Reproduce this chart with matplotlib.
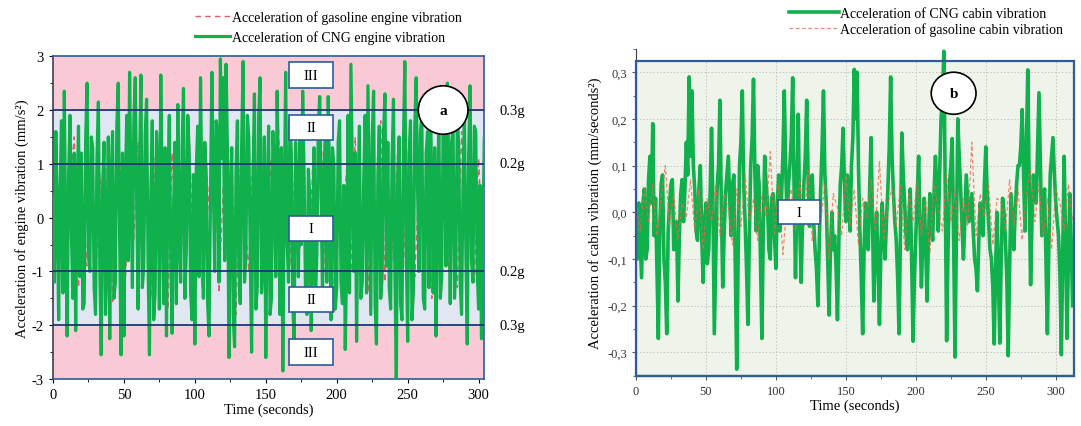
import numpy as np
import matplotlib
matplotlib.use('Agg')
import matplotlib.pyplot as plt
from matplotlib.patches import Rectangle, Ellipse
from matplotlib.ticker import MultipleLocator, FuncFormatter
import matplotlib.transforms as mtransforms

plt.rcParams['font.family'] = ['Liberation Serif', 'DejaVu Serif']
plt.rcParams['font.size'] = 10
plt.rcParams['axes.unicode_minus'] = False

# ---- data ----
# engine vibration, CNG: even seconds 0..310 and odd seconds 1..309
cng_engine_even = [0.4, 1.6, -1.9, 1.8, 2.35, -2.2, 1.9, -1.5, -2.1, 1.7,
                   1.2, -1.6, 2.5, -1.0, 1.3, -1.8, 2.15, -2.55, 1.4, -0.8,
                   -2.25, 1.6, -1.2, 2.5, -2.55, -2.2, 1.9, 2.7, -1.3, 2.6,
                   -1.7, 2.65, -0.9, 2.2, -2.55, 1.8, -1.4, 0.9, 2.65, -1.6,
                   -2.2, 1.9, -2.15, 1.4, 2.1, -1.2, 2.4, -0.6, 1.2, -1.9,
                   -2.35, 1.7, 2.6, -1.5, 0.8, -2.2, 2.7, -1.0, 1.6, 2.95,
                   2.6, 2.85, -2.6, 1.3, -2.4, 1.8, -1.6, 2.9, -0.7, 1.5,
                   -2.5, 2.3, -1.3, 2.6, -0.8, -2.6, 1.7, -1.5, 1.0, 2.35,
                   -1.8, -2.85, 2.7, -1.2, 1.2, -2.3, 0.6, 1.6, 2.35, -1.4,
                   0.9, -2.1, 1.3, -0.7, 2.25, -1.5, 1.5, 2.25, -1.9, 1.0,
                   -1.3, 1.8, -1.6, -2.45, 1.9, 2.85, -1.0, -2.3, 1.7, -1.2,
                   1.9, 2.45, -1.8, 2.35, -2.35, 1.7, -1.1, 2.3, 1.4, -1.7,
                   2.2, -3.0, 1.5, -1.9, 2.9, -2.3, 1.8, -1.4, 2.6, -1.0,
                   1.9, -1.7, 1.6, 2.2, -1.4, -2.2, 1.8, -1.1, 1.5, 2.5,
                   -1.6, 1.7, -0.9, 1.3, -1.8, 1.9, -2.35, 2.45, -1.2, 1.6,
                   -1.7, -2.25, 1.5, -1.3, 1.1, 0.2]
cng_engine_odd = [-1.2, 0.2, 0.5, -1.4, -0.5, 0.8, -0.3, 1.2, 0.4, -1.1,
                  -1.7, 1.4, -0.6, 1.5, -1.3, 1.1, -0.9, 0.6, -1.8, 1.5,
                  0.7, -1.5, 1.7, -0.4, 1.2, 0.6, -0.8, 0.4, 1.8, 0.3,
                  0.9, -1.3, 1.6, -0.8, 0.5, -1.9, 1.6, -1.7, 0.2, 1.3,
                  0.6, -0.7, 0.2, -1.6, -0.3, 1.3, -1.5, 1.9, -1.4, 0.8,
                  0.9, -1.1, 0.3, 1.4, -1.6, 0.4, 0.6, 1.8, -1.2, 1.1,
                  -0.8, 1.2, 0.5, -1.8, 0.9, -0.9, 1.4, -1.2, 1.9, -0.6,
                  0.8, -1.7, 1.9, -1.4, 1.5, 0.3, -1.8, 1.6, -1.1, 0.4,
                  1.3, 0.2, -0.4, 1.8, -1.6, 1.4, -1.1, -0.5, 0.8, -1.8,
                  0.4, -0.6, -1.5, 1.7, 0.3, 0.9, -1.2, 0.5, 1.3, -1.7,
                  1.4, -1.2, 0.6, -0.8, -1.4, 0.9, 1.2, 0.4, -1.5, 0.7,
                  -1.4, 0.4, 1.5, -1.6, 0.8, -1.5, 1.6, -0.9, -1.3, 1.1,
                  -1.1, 0.8, -1.6, 1.4, -0.6, 1.2, -1.9, 1.7, 0.5, 1.6,
                  -1.5, 1.2, -1.3, 0.6, 1.3, 0.4, -1.5, 1.8, -0.9, 0.8,
                  1.4, -1.5, 1.9, -1.2, 0.7, -0.6, 1.2, -0.8, 1.7, -1.0,
                  0.6, -0.4, -1.1, 1.6, -0.9]

# engine vibration, gasoline (every 3 s)
t_gas_engine = np.arange(0, 310, 3)
gas_engine = [0.3, -0.8, 1.2, -1.1, 0.6, 1.5, -1.3, 0.4, -0.9, 1.1,
              -1.4, 0.8, -0.5, 1.3, -1.6, 0.2, 1.0, -1.2, 0.7, -0.4,
              1.4, -1.0, 0.5, -1.5, 1.1, -0.3, 0.9, -1.7, 1.2, -0.6,
              0.4, -1.1, 1.6, -0.8, 0.3, -1.3, 1.0, -0.2, 1.5, -1.4,
              0.6, -0.7, 1.2, -1.8, 0.9, 0.1, -1.0, 1.3, -0.5, 0.8,
              -1.5, 1.1, -0.3, 1.7, -1.2, 0.5, -0.9, 1.4, -0.6, 0.2,
              -1.3, 1.0, -0.4, 1.6, -1.1, 0.7, -1.8, 1.2, -0.2, 0.9,
              -1.0, 1.5, -0.7, 0.3, -1.4, 1.1, -0.5, 1.8, -1.2, 0.6,
              -0.8, 1.3, -1.6, 0.4, 1.0, -1.1, 0.7, -0.3, 1.4, -1.5,
              0.9, -0.6, 1.2, -1.0, 0.5, -1.3, 1.6, -0.4, 0.8, -1.2,
              1.1, -0.7, 0.3, -0.2]

# cabin vibration, CNG: even seconds 0..312 and odd seconds 1..311
cng_cabin_even = [-0.05, 0.02, -0.14, 0.05, -0.08, 0.12, 0.19, 0.03, -0.27, 0.06,
                  -0.1, -0.26, 0.02, 0.07, -0.05, -0.19, 0.04, -0.02, 0.15, 0.29,
                  0.26, 0.05, -0.06, 0.1, -0.15, 0.02, -0.08, 0.18, -0.26, 0.05,
                  0.24, -0.16, 0.04, 0.12, -0.05, 0.08, -0.336, 0.1, 0.26, -0.02,
                  -0.24, 0.1, 0.285, -0.04, 0.06, -0.27, 0.12, 0.02, -0.1, 0.04,
                  -0.12, 0.08, 0.03, 0.26, -0.02, 0.1, 0.288, -0.14, 0.21, -0.15,
                  0.06, 0.24, -0.03, 0.08, -0.08, -0.2, 0.05, 0.26, 0.02, -0.22,
                  0.0, -0.05, -0.23, 0.06, 0.18, -0.02, 0.04, 0.1, 0.306, 0.3,
                  -0.04, -0.26, 0.02, -0.08, 0.16, -0.19, 0.0, -0.24, 0.02, -0.1,
                  0.05, 0.29, 0.04, -0.06, -0.26, 0.17, 0.02, -0.08, 0.05, -0.276,
                  -0.05, 0.12, -0.16, 0.03, -0.19, 0.04, -0.06, 0.12, -0.04, 0.2,
                  0.345, -0.275, 0.06, 0.158, -0.31, 0.2, 0.05, -0.1, 0.08, -0.02,
                  0.04, -0.1, -0.168, 0.02, -0.05, 0.14, -0.02, -0.1, -0.282, 0.0,
                  -0.28, 0.03, -0.06, -0.307, 0.04, -0.08, 0.06, 0.1, 0.22, -0.04,
                  0.305, -0.155, 0.08, 0.02, 0.256, -0.05, 0.05, -0.26, 0.08, 0.16,
                  0.02, -0.05, -0.305, 0.12, -0.27, 0.04, -0.2]
cng_cabin_odd = [-0.1, -0.06, 0.02, -0.1, 0.07, 0.02, -0.05, -0.12, -0.04, 0.08,
                 -0.15, -0.04, 0.06, -0.08, -0.02, -0.05, 0.07, 0.05, 0.08, 0.12,
                 0.1, -0.04, 0.05, -0.05, -0.02, -0.11, 0.04, 0.02, -0.1, 0.1,
                 0.02, -0.05, 0.08, 0.03, 0.06, -0.12, -0.1, 0.15, 0.06, -0.12,
                 -0.06, 0.16, 0.08, 0.1, -0.1, -0.04, 0.06, -0.08, 0.03, -0.05,
                 0.02, -0.04, 0.12, 0.1, 0.06, 0.16, 0.05, 0.04, -0.02, -0.03,
                 0.12, 0.08, 0.04, -0.02, -0.12, -0.06, 0.14, 0.08, -0.1, -0.08,
                 -0.08, -0.12, -0.06, 0.1, 0.06, 0.08, -0.04, 0.16, 0.2, 0.1,
                 -0.14, -0.08, -0.04, 0.05, -0.02, -0.06, -0.12, -0.08, -0.05, -0.02,
                 0.14, 0.12, -0.02, -0.14, -0.04, 0.08, -0.05, -0.02, -0.1, -0.14,
                 0.04, -0.03, -0.05, -0.07, -0.06, -0.02, 0.04, 0.05, 0.08, 0.24,
                 0.05, -0.08, 0.1, -0.06, -0.04, 0.12, -0.03, -0.02, 0.03, 0.01,
                 -0.04, -0.12, -0.06, -0.03, 0.06, 0.04, -0.08, -0.16, -0.12, -0.14,
                 -0.1, 0.0, -0.14, -0.12, -0.02, 0.0, 0.1, 0.14, 0.08, 0.14,
                 0.06, -0.02, 0.04, 0.14, 0.1, 0.02, -0.1, -0.08, 0.12, 0.08,
                 -0.02, -0.14, -0.08, -0.06, -0.1, -0.06]

# cabin vibration, gasoline (every 3 s)
t_gas_cabin = np.arange(0, 313, 3)
gas_cabin = [0.02, -0.04, 0.05, -0.02, 0.06, -0.05, 0.03, 0.1, -0.03, 0.04,
             -0.06, 0.02, -0.01, 0.07, -0.04, 0.05, -0.08, 0.03, -0.02, 0.06,
             -0.05, 0.04, 0.01, -0.07, 0.05, -0.03, 0.08, -0.02, 0.03, -0.06,
             0.04, -0.01, 0.13, -0.05, 0.06, -0.09, 0.02, 0.05, -0.04, 0.07,
             -0.03, 0.09, -0.06, 0.02, -0.02, 0.06, -0.1, 0.04, 0.01, -0.05,
             0.08, -0.03, 0.05, -0.07, 0.03, -0.01, 0.07, -0.04, 0.11, -0.06,
             0.02, 0.05, -0.03, 0.06, -0.08, 0.04, -0.02, 0.07, -0.05, 0.03,
             -0.09, 0.06, 0.01, -0.04, 0.08, -0.02, 0.05, -0.06, 0.03, -0.03,
             0.15, -0.05, 0.04, -0.01, 0.06, -0.07, 0.03, 0.02, -0.04, 0.07,
             -0.03, 0.05, -0.06, 0.04, 0.09, -0.02, 0.06, -0.05, 0.03, -0.08,
             0.05, 0.02, -0.04, 0.06, -0.02]

zone_levels = [2, 1, -1, -2]
zone_g_labels = ['0.3g', '0.2g', '0.2g', '0.3g']


def interleave(even, odd):
    out = np.empty(len(even) + len(odd))
    out[0::2] = even
    out[1::2] = odd
    return out


cng_engine = interleave(cng_engine_even, cng_engine_odd)
t_cng_engine = np.arange(len(cng_engine))
cng_cabin = interleave(cng_cabin_even, cng_cabin_odd)
t_cng_cabin = np.arange(len(cng_cabin))

green = '#10b04c'
navy = '#1d3575'
frame_blue = '#2e5b9a'

fig = plt.figure(figsize=(10.81, 4.27), dpi=100)

# ---------------- panel a: engine ----------------
ax1 = fig.add_axes([0.049, 0.110, 0.399, 0.756])
ax1.set_xlim(0, 304)
ax1.set_ylim(-3, 3)
ax1.axhspan(2, 3, color='#f9cad5', zorder=0)
ax1.axhspan(-3, -2, color='#f9cad5', zorder=0)
ax1.axhspan(-2, 2, color='#e0e6f2', zorder=0)

ax1.plot(t_gas_engine, gas_engine, color='#e45c66', lw=1.0, dashes=(4, 3),
         zorder=2, label='Acceleration of gasoline engine vibration')
ax1.plot(t_cng_engine, cng_engine, color=green, lw=2.3, zorder=3,
         label='Acceleration of CNG engine vibration')

trans = mtransforms.blended_transform_factory(ax1.transAxes, ax1.transData)
for lev, lab in zip(zone_levels, zone_g_labels):
    ax1.axhline(lev, color=navy, lw=1.3, zorder=4)
    ax1.text(1.035, lev, lab, transform=trans, ha='left', va='center', fontsize=10.5)

# zone boxes
for yc, lab in [(2.65, 'III'), (1.68, 'II'), (-0.2, 'I'), (-1.52, 'II'), (-2.5, 'III')]:
    ax1.add_patch(Rectangle((166.5, yc - 0.235), 31, 0.47, fc='white', ec=frame_blue,
                            lw=1.2, zorder=6))
    ax1.text(182, yc, lab, ha='center', va='center', fontsize=10.5, zorder=7)

ax1.add_patch(Ellipse((275, 2.0), 35, 0.9, fc='white', ec='black', lw=1.2, zorder=6))
ax1.text(275, 2.0, 'a', ha='center', va='center', fontsize=11, fontweight='bold', zorder=7)

ax1.xaxis.set_major_locator(MultipleLocator(50))
ax1.xaxis.set_minor_locator(MultipleLocator(25))
ax1.yaxis.set_major_locator(MultipleLocator(1))
ax1.yaxis.set_minor_locator(MultipleLocator(0.5))
ax1.tick_params(which='both', direction='out', labelsize=10.5)
ax1.tick_params(which='major', length=3)
ax1.tick_params(which='minor', length=2)
for s in ax1.spines.values():
    s.set_color(frame_blue)
    s.set_linewidth(1.2)
ax1.spines['left'].set_color('#3c3c55')
ax1.set_xlabel('Time (seconds)', fontsize=10.5, labelpad=1)
ax1.set_ylabel('Acceleration of engine vibration (mm/s²)', fontsize=10.5, labelpad=2)

ax1.legend(loc='upper left', bbox_to_anchor=(0.173, 0.993), bbox_transform=fig.transFigure,
           frameon=False, fontsize=10, handlelength=2.5, handletextpad=0.15,
           labelspacing=0.45, borderaxespad=0.2)

# ---------------- panel b: cabin ----------------
ax2 = fig.add_axes([0.5883, 0.1176, 0.4052, 0.7656])
ax2.set_xlim(0, 313)
ax2.set_ylim(-0.35, 0.35)
ax2.add_patch(Rectangle((0, -0.35), 313, 0.675, fc='#eef4ea', ec='none', zorder=0))
ax2.add_patch(Rectangle((0, -0.35), 313, 0.675, fill=False, ec=frame_blue, lw=1.6,
                        zorder=5, clip_on=False))

for xv in [50, 100, 150, 200, 250, 300]:
    ax2.plot([xv, xv], [-0.35, 0.325], color='#c4c4c4', lw=0.7, ls=(0, (1.5, 2)), zorder=1)
for yv in [-0.3, -0.2, -0.1, 0.1, 0.2, 0.3]:
    ax2.axhline(yv, color='#c4c4c4', lw=0.7, ls=(0, (1.5, 2)), zorder=1)

ax2.plot(t_cng_cabin, cng_cabin, color=green, lw=2.6, zorder=3,
         label='Acceleration of CNG cabin vibration')
ax2.plot(t_gas_cabin, gas_cabin, color='#ee6448', lw=0.9, dashes=(3, 2), alpha=0.75,
         zorder=4, label='Acceleration of gasoline cabin vibration')

ax2.add_patch(Rectangle((101.5, -0.026), 30, 0.052, fc='white', ec=frame_blue,
                        lw=1.2, zorder=6))
ax2.text(116.5, 0.0, 'I', ha='center', va='center', fontsize=10.5, zorder=7)
ax2.add_patch(Ellipse((227, 0.255), 32, 0.09, fc='white', ec='black', lw=1.2, zorder=6))
ax2.text(227, 0.255, 'b', ha='center', va='center', fontsize=11, fontweight='bold', zorder=7)

ax2.xaxis.set_major_locator(MultipleLocator(50))
ax2.xaxis.set_minor_locator(MultipleLocator(25))
ax2.yaxis.set_major_locator(MultipleLocator(0.1))
ax2.yaxis.set_minor_locator(MultipleLocator(0.05))
ax2.yaxis.set_major_formatter(FuncFormatter(lambda v, p: ('%.1f' % v).replace('.', ',')))
ax2.tick_params(which='both', direction='out', labelsize=9, colors='#555555',
                labelcolor='#333333')
ax2.tick_params(which='major', length=3)
ax2.tick_params(which='minor', length=2)
ax2.spines['top'].set_visible(False)
ax2.spines['right'].set_visible(False)
ax2.spines['left'].set_color('#3c3c55')
ax2.spines['bottom'].set_color(frame_blue)
ax2.spines['bottom'].set_linewidth(1.6)
ax2.set_xlabel('Time (seconds)', fontsize=10.5, labelpad=1)
ax2.set_ylabel('Acceleration of cabin vibration (mm/seconds²)', fontsize=10.5, labelpad=4)

ax2.legend(loc='upper left', bbox_to_anchor=(0.722, 1.0), bbox_transform=fig.transFigure,
           frameon=False, fontsize=10, handlelength=3.6, handletextpad=0.05,
           labelspacing=0.12, borderaxespad=0.2)

fig.savefig('out.png', dpi=100)
